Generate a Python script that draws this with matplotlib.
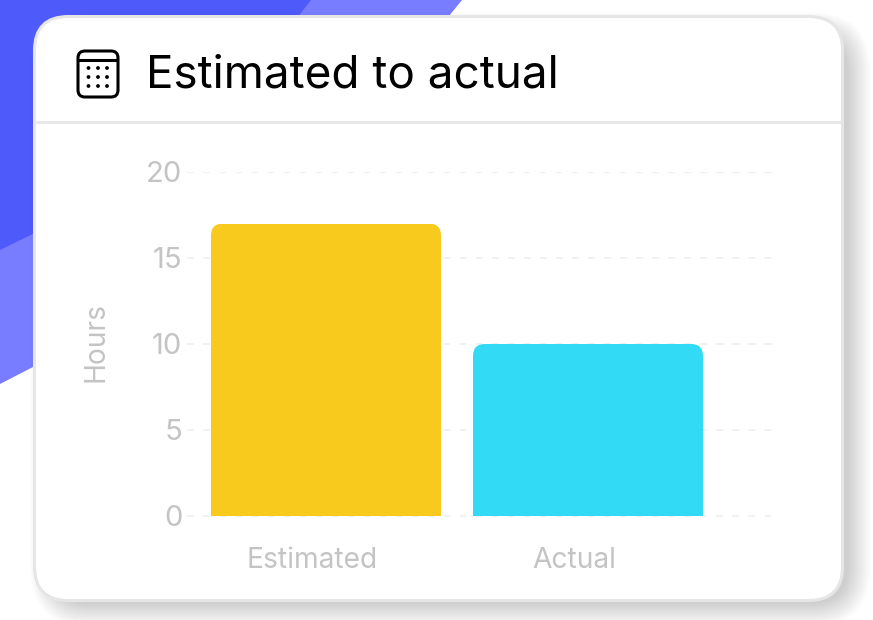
import numpy as np
import matplotlib
matplotlib.use('Agg')
import matplotlib.pyplot as plt
from matplotlib.patches import FancyBboxPatch, Polygon, Circle
from matplotlib.transforms import ScaledTranslation

plt.rcParams['font.family'] = ['Inter', 'DejaVu Sans']

categories = ['Estimated', 'Actual']
hours = [17, 10]
bar_colors = ['#F8CA1E', '#33DAF5']
yticks = [0, 5, 10, 15, 20]
title = 'Estimated to actual'
ylabel = 'Hours'

W, H = 873, 620
grey = '#C4C4C4'

fig = plt.figure(figsize=(W/100, H/100), dpi=100, facecolor='white')

# background layer in pixel coords, y pointing down
bg = fig.add_axes([0, 0, 1, 1])
bg.set_xlim(0, W)
bg.set_ylim(H, 0)
bg.axis('off')

bg.add_patch(Polygon([(0, 0), (462, 0), (300, 200), (33, 367), (0, 384)], fc='#777DFE', ec='none', zorder=1))
bg.add_patch(Polygon([(0, 0), (311, 0), (280, 40), (200, 152), (0, 250)], fc='#4F5AFA', ec='none', zorder=2))


def card(x0, y0, x1, y1, r, **kw):
    return FancyBboxPatch((x0 + r, y0 + r), x1 - x0 - 2*r, y1 - y0 - 2*r,
                          boxstyle='round,pad=%d,rounding_size=%d' % (r, r), **kw)


# soft shadow, layered
for i in range(24):
    g = 24 - i
    bg.add_patch(card(33 + 21 - g, 15 + 21 - g, 844 + 3 + g, 602 + 1 + g, 36 + g,
                      fc='black', ec='none', alpha=0.0075, zorder=3))

bg.add_patch(card(34.5, 16.5, 842.5, 600.5, 34, fc='white', ec='#E6E6E6', lw=2.2, zorder=4))
bg.plot([36, 841], [122, 122], color='#E8E8E8', lw=2.2, zorder=5, solid_capstyle='butt')

# calendar icon
bg.add_patch(card(78, 51, 118, 97, 7, fc='none', ec='black', lw=2.2, zorder=5))
bg.plot([78, 118], [60, 60], color='black', lw=2.2, zorder=5, solid_capstyle='butt')
for py in [68, 77, 86]:
    for px in [88.5, 98, 107]:
        bg.add_patch(Circle((px, py), 1.9, fc='black', ec='none', zorder=5))

bg.text(146.5, 76, title, fontsize=33, color='black', va='center', ha='left', zorder=5)

# chart
left, right, top, bottom = 187, 773, 172, 516
ax = fig.add_axes([left/W, 1 - bottom/H, (right - left)/W, (bottom - top)/H])
ax.patch.set_alpha(0)
x = np.arange(len(categories))
x_unit = 262  # px between the two bars
ax.set_xlim((left - 326)/x_unit, (right - 326)/x_unit)
ax.set_ylim(0, 20)

bars = ax.bar(x, hours, width=230/x_unit, color=bar_colors, zorder=3)

# round the top corners only: clip with a rounded box running below the axis
px_per_y = (bottom - top)/20
for b in bars:
    clip = FancyBboxPatch((b.get_x(), -3), b.get_width(), b.get_height() + 3,
                          boxstyle='round,pad=0,rounding_size=%f' % (12/x_unit),
                          mutation_aspect=x_unit/px_per_y, transform=ax.transData)
    b.set_clip_path(clip)

ax.set_yticks(yticks)
ax.set_yticklabels([str(v) for v in yticks])
ax.set_xticks(x)
ax.set_xticklabels(categories)
ax.grid(axis='y', color='#EDEDED', lw=1.1, dashes=(4.5, 6), zorder=1)
ax.set_axisbelow(True)
ax.get_ygridlines()[0].set_clip_on(False)
for s in ax.spines.values():
    s.set_visible(False)
ax.tick_params(axis='y', length=0, pad=3.5, labelsize=21, labelcolor=grey)
ax.tick_params(axis='x', length=0, pad=22, labelsize=20.3, labelcolor=grey)
ax.set_ylabel(ylabel, fontsize=20.3, color=grey)
ax.yaxis.set_label_coords(-0.132, 0.505, transform=ax.transAxes)

# the x labels sit a bit left of the bar centres
shift = ScaledTranslation(-14/100, 0, fig.dpi_scale_trans)
for t in ax.get_xticklabels():
    t.set_transform(t.get_transform() + shift)

fig.savefig('out.png', dpi=100)
